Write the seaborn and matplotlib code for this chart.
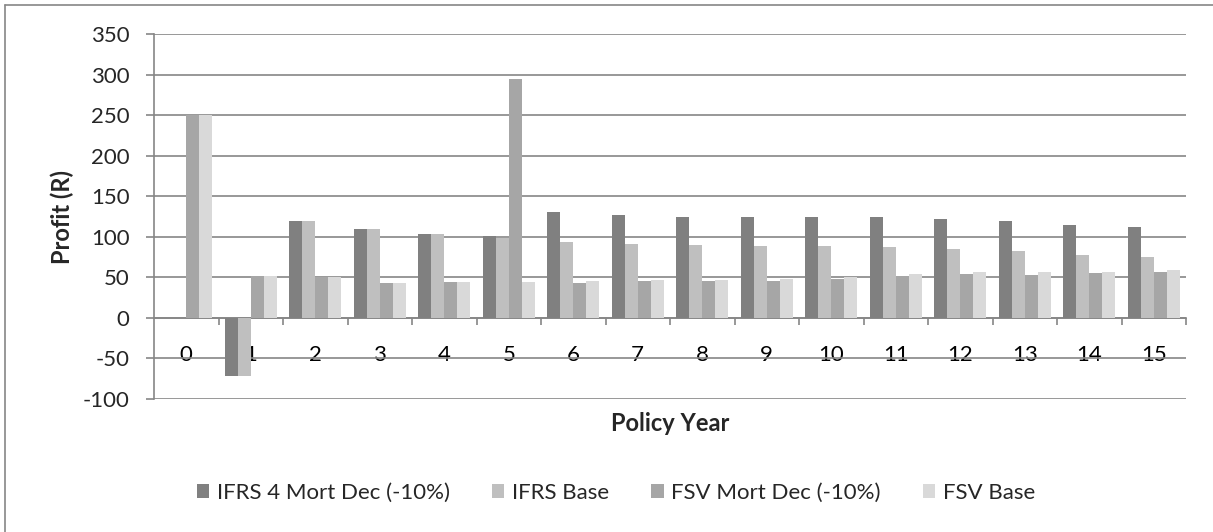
# ============================================================
# plot.py - profit by policy year, IFRS vs FSV
# ============================================================
"""
Profit per policy year under a 10% mortality decrease, IFRS 4 and FSV
bases, drawn as grouped grey bars.
"""

import numpy as np
import pandas as pd
import matplotlib
matplotlib.use('Agg')
import matplotlib.pyplot as plt
from matplotlib.lines import Line2D
from matplotlib.patches import Patch
import seaborn as sns

# ============================================================
# DATA
# ============================================================
policy_years = list(range(16))

ifrs4_mort_dec = [0, -72, 120, 109, 103, 101, 130, 127, 125, 125, 125, 124, 122, 119, 115, 112]
ifrs_base = [0, -72, 120, 109, 103, 98, 94, 91, 90, 89, 89, 88, 85, 82, 78, 75]
fsv_mort_dec = [250, 52, 51, 43, 44, 295, 43, 45, 45, 46, 48, 52, 54, 53, 55, 56]
fsv_base = [250, 52, 50, 43, 44, 44, 45, 47, 47, 48, 51, 54, 57, 56, 57, 59]

series_names = ['IFRS 4 Mort Dec (-10%)', 'IFRS Base', 'FSV Mort Dec (-10%)', 'FSV Base']
series_colors = ['#808080', '#BFBFBF', '#A6A6A6', '#D9D9D9']

y_ticks = list(range(-100, 351, 50))

# ============================================================
# CONFIGURATION
# ============================================================
FIG_W, FIG_H = 1213, 532
DPI = 100
GRID_COLOR = '#868686'
FONT = ['Lato', 'DejaVu Sans']


def build_frame():
    values = [ifrs4_mort_dec, ifrs_base, fsv_mort_dec, fsv_base]
    rows = []
    for name, vals in zip(series_names, values):
        for year, v in zip(policy_years, vals):
            rows.append({'year': year, 'profit': v, 'series': name})
    return pd.DataFrame(rows)


def main():
    sns.set_theme(style='white')
    plt.rcParams['font.family'] = FONT

    df = build_frame()

    fig = plt.figure(figsize=(FIG_W / DPI, FIG_H / DPI), dpi=DPI)
    left, right = 154 / FIG_W, 1186 / FIG_W
    top, bottom = 1 - 34 / FIG_H, 1 - 399 / FIG_H
    ax = fig.add_axes([left, bottom, right - left, top - bottom])

    sns.barplot(
        data=df, x='year', y='profit', hue='series',
        hue_order=series_names, palette=series_colors,
        width=0.8, saturation=1, linewidth=0, errorbar=None,
        legend=False, ax=ax, zorder=3
    )

    n = len(policy_years)
    ax.set_xlim(-0.5, n - 0.5)
    ax.set_ylim(y_ticks[0], y_ticks[-1])
    ax.set_yticks(y_ticks)
    ax.set_yticklabels([str(t) for t in y_ticks], fontsize=16)

    # gridlines
    ax.grid(axis='y', color=GRID_COLOR, linewidth=1.2, zorder=0)
    ax.grid(axis='x', visible=False)
    ax.set_axisbelow(True)

    # spines: left axis plus category axis at zero
    for side in ['top', 'right']:
        ax.spines[side].set_visible(False)
    ax.spines['left'].set_color(GRID_COLOR)
    ax.spines['left'].set_linewidth(1.2)
    ax.spines['bottom'].set_position(('data', 0))
    ax.spines['bottom'].set_color(GRID_COLOR)
    ax.spines['bottom'].set_linewidth(1.2)

    # category labels at centres, tick marks between categories
    ax.set_xticks(range(n))
    ax.set_xticklabels([str(y) for y in policy_years], fontsize=16)
    ax.set_xticks(np.arange(0.5, n, 1.0), minor=True)
    ax.tick_params(axis='x', which='major', length=0, pad=19.5, colors='black')
    ax.tick_params(axis='x', which='minor', length=5, width=1.2,
                   color=GRID_COLOR, direction='out', bottom=True)
    ax.tick_params(axis='y', which='major', length=5.5, width=1.2,
                   color=GRID_COLOR, direction='out', left=True, pad=12)

    ax.set_xlabel('Policy Year', fontsize=17, fontweight='bold', labelpad=0)
    ax.xaxis.set_label_coords(0.5, -(412 - 399) / (399 - 34), transform=ax.transAxes)
    ax.set_ylabel('Profit (R)', fontsize=17, fontweight='bold', labelpad=6)

    # legend along the bottom
    handles = [Patch(facecolor=c, edgecolor='none') for c in series_colors]
    fig.legend(
        handles, series_names, loc='center',
        bbox_to_anchor=(616 / FIG_W, 1 - 493 / FIG_H),
        ncol=4, frameon=False, fontsize=16,
        handlelength=0.55, handleheight=0.55, handletextpad=0.35,
        columnspacing=1.9
    )

    # chart area outline (top and left edges visible)
    fig.add_artist(Line2D([5 / FIG_W, 1.0], [1 - 5 / FIG_H] * 2,
                          color=GRID_COLOR, linewidth=1.2))
    fig.add_artist(Line2D([5 / FIG_W] * 2, [0.0, 1 - 5 / FIG_H],
                          color=GRID_COLOR, linewidth=1.2))

    fig.savefig('out.png', dpi=DPI)


if __name__ == '__main__':
    main()
